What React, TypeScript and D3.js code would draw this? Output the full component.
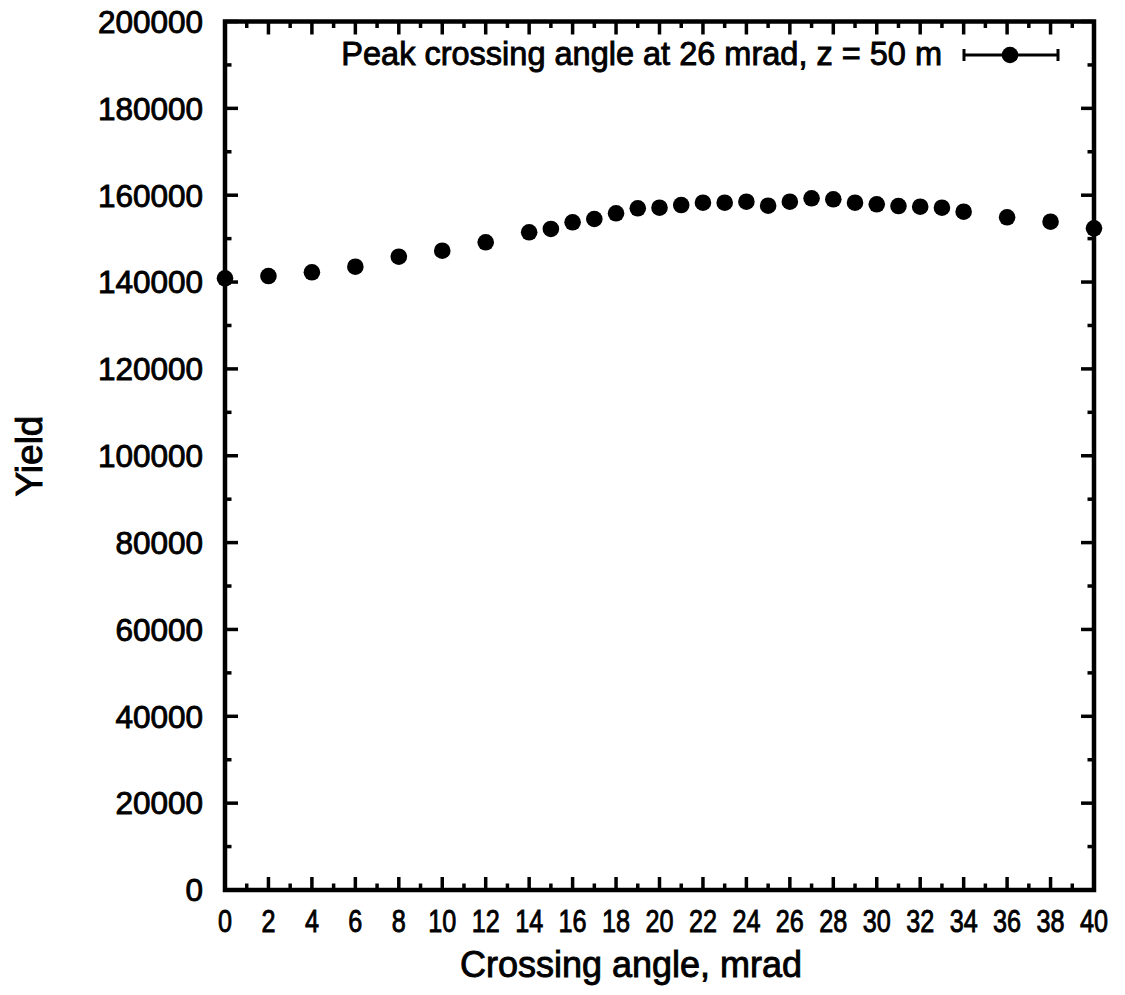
import React from "react";
import * as d3 from "d3";

const angles = [0, 2, 4, 6, 8, 10, 12, 14, 15, 16, 17, 18, 19, 20, 21, 22, 23, 24, 25, 26, 27, 28, 29, 30, 31, 32, 33, 34, 36, 38, 40];
const yields = [140870, 141390, 142250, 143540, 145840, 147220, 149160, 151460, 152220, 153760, 154520, 155830, 156990, 157120, 157740, 158270, 158270, 158500, 157580, 158500, 159290, 159060, 158270, 157900, 157510, 157350, 157120, 156200, 154910, 153900, 152380];
const xTickLabels = d3.range(0, 41, 2);
const yTickLabels = d3.range(0, 200001, 20000);
const legendLabel = "Peak crossing angle at 26 mrad, z = 50 m";
const xTitle = "Crossing angle, mrad";
const yTitle = "Yield";

const W = 1125, H = 995;
const L = 225, R = 1094, T = 21.5, B = 890;
const FONT = "'Liberation Sans', Arial, Helvetica, sans-serif";

export default function App() {
  const x = d3.scaleLinear().domain([0, 40]).range([L, R]);
  const y = d3.scaleLinear().domain([0, 200000]).range([B, T]);
  const xMinor = d3.range(0, 41, 1);
  const yMinor = d3.range(0, 200001, 10000);
  const majLen = 13, minLen = 6.5;
  const sw = 0.9;
  return (
    <svg width={W} height={H} style={{ position: "absolute", left: 0, top: 0, background: "#fff" }} fontFamily={FONT}>
      <rect x={0} y={0} width={W} height={H} fill="#fff" />
      <g stroke="#000" strokeWidth={3.5}>
        {xMinor.map((v) => {
          const len = v % 2 === 0 ? majLen : minLen;
          return (
            <g key={"xt" + v}>
              <line x1={x(v)} x2={x(v)} y1={B} y2={B - len} />
              <line x1={x(v)} x2={x(v)} y1={T} y2={T + len} />
            </g>
          );
        })}
        {yMinor.map((v) => {
          const len = v % 20000 === 0 ? majLen : minLen;
          return (
            <g key={"yt" + v}>
              <line x1={L} x2={L + len} y1={y(v)} y2={y(v)} />
              <line x1={R} x2={R - len} y1={y(v)} y2={y(v)} />
            </g>
          );
        })}
      </g>
      <rect x={L} y={T} width={R - L} height={B - T} fill="none" stroke="#000" strokeWidth={4.5} />
      <g fontSize={31.5} fill="#000" textAnchor="end">
        {yTickLabels.map((v) => (
          <text key={"yl" + v} x={203} y={y(v)} dy="0.36em" stroke="#000" strokeWidth={sw}>
            {v}
          </text>
        ))}
      </g>
      <g fontSize={31.5} fill="#000" textAnchor="middle">
        {xTickLabels.map((v) => (
          <text key={"xl" + v} transform={`translate(${x(v)},932) scale(0.8,1)`} stroke="#000" strokeWidth={sw}>
            {v}
          </text>
        ))}
      </g>
      <text x={631} y={977} fontSize={36} textAnchor="middle" fill="#000" stroke="#000" strokeWidth={sw}>
        {xTitle}
      </text>
      <text transform={`translate(42,456) rotate(-90)`} fontSize={37} textAnchor="middle" fill="#000" stroke="#000" strokeWidth={sw}>
        {yTitle}
      </text>
      <g fill="#000">
        {angles.map((a, i) => (
          <circle key={"p" + a} cx={x(a)} cy={y(yields[i])} r={8.3} />
        ))}
      </g>
      <text x={942} y={65} fontSize={32.5} textAnchor="end" fill="#000" stroke="#000" strokeWidth={sw}>
        {legendLabel}
      </text>
      <g stroke="#000" strokeWidth={3}>
        <line x1={964} x2={1058} y1={55} y2={55} />
        <line x1={964} x2={964} y1={49} y2={61} />
        <line x1={1058} x2={1058} y1={49} y2={61} />
      </g>
      <circle cx={1010} cy={55} r={8.3} fill="#000" />
    </svg>
  );
}
